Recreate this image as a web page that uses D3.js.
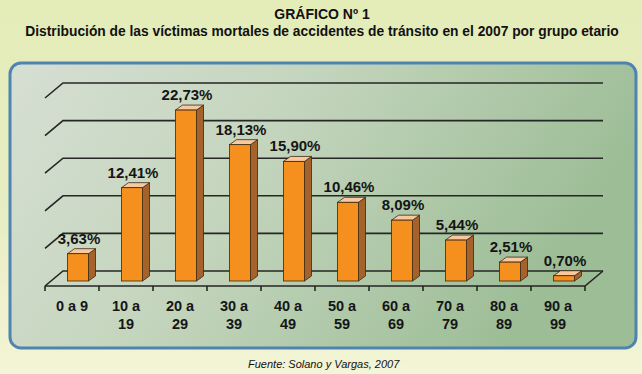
<!DOCTYPE html>
<html>
<head>
<meta charset="utf-8">
<script src="https://cdn.jsdelivr.net/npm/d3@7"></script>
<style>
  html, body { margin: 0; padding: 0; }
  body { width: 642px; height: 374px; overflow: hidden; }
  svg { display: block; font-family: "Liberation Sans", Arial, sans-serif; }
</style>
</head>
<body>
<div class="grafico"></div>
<script>

const grupos = ["0 a 9", "10 a 19", "20 a 29", "30 a 39", "40 a 49", "50 a 59", "60 a 69", "70 a 79", "80 a 89", "90 a 99"]
const valores = [3.63, 12.41, 22.73, 18.13, 15.90, 10.46, 8.09, 5.44, 2.51, 0.70]
const etiquetas = [["0 a 9"], ["10 a", "19"], ["20 a", "29"], ["30 a", "39"], ["40 a", "49"], ["50 a", "59"], ["60 a", "69"], ["70 a", "79"], ["80 a", "89"], ["90 a", "99"]]
const lineasY = [0, 5, 10, 15, 20, 25]

const titulo = "GRÁFICO Nº 1"
const subtitulo = "Distribución de las víctimas mortales de accidentes de tránsito en el 2007 por grupo etario"
const fuente = "Fuente: Solano y Vargas, 2007"

const dataset = grupos.map((g, i) => ({ grupo: g, valor: valores[i], lineas: etiquetas[i] }))

function drawChart () {

  let dimensions = {
    width: 642,
    height: 374,
    margin: { top: 83, right: 57, bottom: 88, left: 45 },
  }
  // 3d depth of the back wall and of the bars
  const depth = { x: 18, y: 15 }
  const barDepth = { x: 7, y: 5 }

  const wrapper = d3.select(".grafico")
    .append("svg")
    .attr("width", dimensions.width)
    .attr("height", dimensions.height)

  const defs = wrapper.append("defs")

  const bg = defs.append("linearGradient").attr("id", "bg")
    .attr("x1", 0).attr("y1", 0).attr("x2", 0).attr("y2", 1)
  bg.append("stop").attr("offset", "0%").attr("stop-color", "#e4ecb8")
  bg.append("stop").attr("offset", "60%").attr("stop-color", "#e8eec4")
  bg.append("stop").attr("offset", "100%").attr("stop-color", "#f3f5d6")

  const panel = defs.append("linearGradient").attr("id", "panel")
    .attr("x1", 0).attr("y1", 0).attr("x2", 1).attr("y2", 0.3)
  panel.append("stop").attr("offset", "0%").attr("stop-color", "#d6dfd3")
  panel.append("stop").attr("offset", "45%").attr("stop-color", "#c4d5bd")
  panel.append("stop").attr("offset", "100%").attr("stop-color", "#9cbd96")

  wrapper.append("rect")
    .attr("width", dimensions.width)
    .attr("height", dimensions.height)
    .attr("fill", "url(#bg)")

  wrapper.append("rect")
    .attr("x", 10).attr("y", 63)
    .attr("width", 626).attr("height", 285)
    .attr("rx", 11)
    .attr("fill", "url(#panel)")
    .attr("stroke", "#4f84b0")
    .attr("stroke-width", 3)

  // titles
  wrapper.append("text")
    .attr("x", 322).attr("y", 19)
    .attr("text-anchor", "middle")
    .attr("font-weight", "bold")
    .attr("font-size", 14)
    .attr("fill", "#111")
    .text(titulo)

  wrapper.append("text")
    .attr("x", 322).attr("y", 36)
    .attr("text-anchor", "middle")
    .attr("font-weight", "bold")
    .attr("font-size", 13.8)
    .attr("fill", "#111")
    .text(subtitulo)

  wrapper.append("text")
    .attr("x", 248).attr("y", 368)
    .attr("font-style", "italic")
    .attr("font-size", 11)
    .attr("fill", "#111")
    .text(fuente)

  const x = d3.scaleBand()
    .domain(grupos)
    .range([dimensions.margin.left, dimensions.width - dimensions.margin.right])

  const y = d3.scaleLinear()
    .domain([0, 25])
    .range([271, 83])

  const xStart = x.range()[0]
  const xEnd = x.range()[1]

  const grid = wrapper.append("g")
    .attr("stroke", "#262626")
    .attr("stroke-width", 1.6)
    .attr("fill", "none")

  // back wall lines with their slanted stub on the left
  grid.selectAll("path.linea")
    .data(lineasY)
    .join("path")
    .attr("class", "linea")
    .attr("d", d => `M${xStart},${y(d) + depth.y} L${xStart + depth.x},${y(d)} L${xEnd + depth.x},${y(d)}`)

  // front edge of the floor + right slant
  grid.append("path")
    .attr("d", `M${xStart},${y(0) + depth.y} L${xEnd},${y(0) + depth.y} L${xEnd + depth.x},${y(0)}`)

  // ticks between groups
  const tickPos = grupos.map(g => x(g)).concat([xEnd])
  grid.selectAll("line.tick")
    .data(tickPos)
    .join("line")
    .attr("class", "tick")
    .attr("x1", d => d).attr("x2", d => d)
    .attr("y1", y(0) + depth.y).attr("y2", y(0) + depth.y + 5)

  // bars
  const barW = 21
  const shift = 6
  const lift = 10
  const bars = wrapper.append("g")
    .selectAll("g")
    .data(dataset)
    .join("g")

  const fx = d => x(d.grupo) + x.bandwidth() / 2 + shift - barW / 2
  const top = d => y(d.valor) + lift
  const bottom = y(0) + lift

  bars.append("path")
    .attr("d", d => `M${fx(d) + barW},${top(d)} L${fx(d) + barW + barDepth.x},${top(d) - barDepth.y} L${fx(d) + barW + barDepth.x},${bottom - barDepth.y} L${fx(d) + barW},${bottom} Z`)
    .attr("fill", "#a5622a")
    .attr("stroke", "#3b2814")
    .attr("stroke-width", 0.8)

  bars.append("path")
    .attr("d", d => `M${fx(d)},${top(d)} L${fx(d) + barDepth.x},${top(d) - barDepth.y} L${fx(d) + barW + barDepth.x},${top(d) - barDepth.y} L${fx(d) + barW},${top(d)} Z`)
    .attr("fill", "#f8c9a0")
    .attr("stroke", "#3b2814")
    .attr("stroke-width", 0.8)

  bars.append("rect")
    .attr("x", fx)
    .attr("y", top)
    .attr("width", barW)
    .attr("height", d => bottom - top(d))
    .attr("fill", "#f5901f")
    .attr("stroke", "#3b2814")
    .attr("stroke-width", 0.8)

  const locale = d3.formatLocale({ decimal: ",", thousands: ".", grouping: [3], currency: ["", ""] })
  const fmt = locale.format(".2f")

  bars.append("text")
    .attr("x", d => fx(d) + barW / 2 + 1)
    .attr("y", d => top(d) - 10)
    .attr("text-anchor", "middle")
    .attr("font-weight", "bold")
    .attr("font-size", 15)
    .attr("fill", "#151515")
    .text(d => fmt(d.valor) + "%")

  // category labels
  const cats = wrapper.append("g")
    .selectAll("text")
    .data(dataset)
    .join("text")
    .attr("x", d => x(d.grupo) + x.bandwidth() / 2)
    .attr("y", 311)
    .attr("text-anchor", "middle")
    .attr("font-weight", "bold")
    .attr("font-size", 14.5)
    .attr("fill", "#151515")

  cats.selectAll("tspan")
    .data(d => d.lineas)
    .join("tspan")
    .attr("x", function () { return d3.select(this.parentNode).attr("x") })
    .attr("dy", (d, i) => i === 0 ? 0 : 18)
    .text(d => d)
}

drawChart()
</script>
</body>
</html>
